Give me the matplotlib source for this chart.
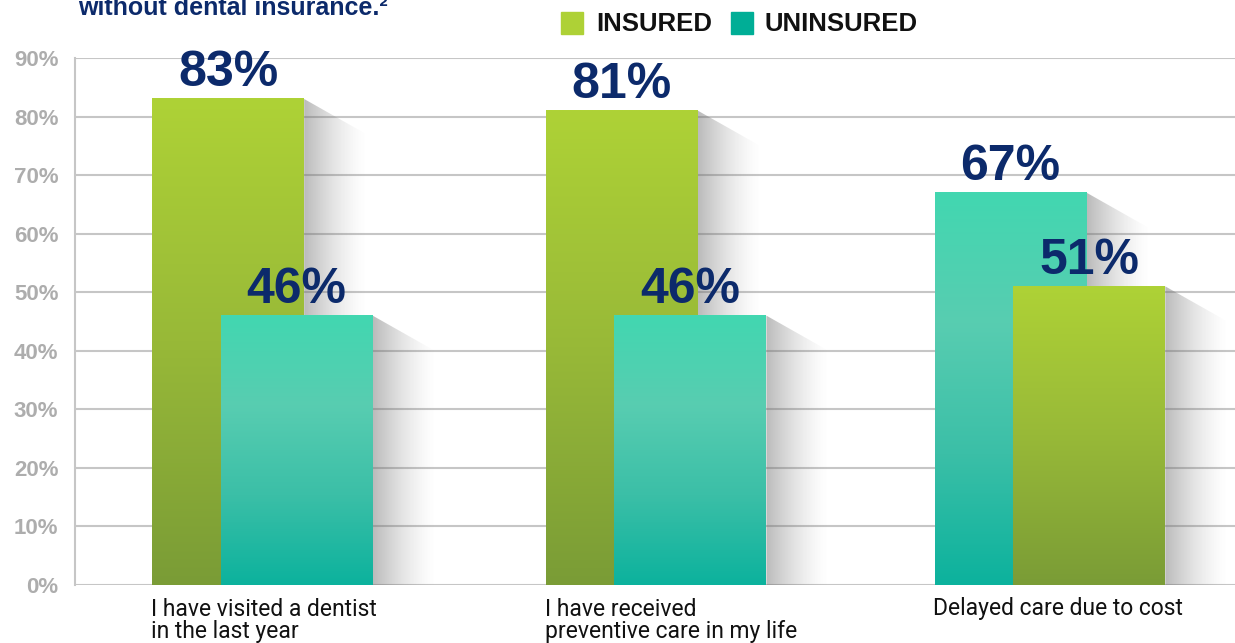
import numpy as np
import matplotlib.pyplot as plt
from matplotlib.colors import LinearSegmentedColormap
from matplotlib.patches import Polygon, Rectangle

# data
categories = ["I have visited a dentist\nin the last year",
              "I have received\npreventive care in my life",
              "Delayed care due to cost"]
insured = [83, 81, 51]
uninsured = [46, 46, 67]
series_names = ["INSURED", "UNINSURED"]
yticks = [0, 10, 20, 30, 40, 50, 60, 70, 80, 90]

NAVY = "#0c2a6b"
GRID = "#c6c6c6"
green_cmap = LinearSegmentedColormap.from_list("g", ["#7a9c36", "#98b938", "#aed236"])
teal_cmap = LinearSegmentedColormap.from_list("t", ["#0cb29d", "#3bbfa7", "#58cdb1", "#42d7b0"])
legend_colors = ["#aed136", "#00ae96"]

bar_w = 0.386
offsets = [0.087, 0.087, 0.1]
shadow_w = 0.16
shadow_drop = 3.8      # in % units over 0.1 x units

fig = plt.figure(figsize=(12.35, 6.43), dpi=100)
ax = fig.add_axes([75 / 1235, 58 / 643, 1 - 75 / 1235, 527 / 643])

for y in yticks:
    ax.axhline(y, color=GRID, lw=1.5, zorder=0.5)

grad = np.linspace(0, 1, 256).reshape(-1, 1)
shadow = np.zeros((1, 256, 4))
shadow[..., :3] = 0.42
shadow[..., 3] = np.linspace(0.6, 0, 256) ** 1.5


def draw_bar(xc, h, cmap, z):
    x0, x1 = xc - bar_w / 2, xc + bar_w / 2
    # shadow to the right with a slanted top
    poly = Polygon([(x1, 0), (x1, h), (x1 + shadow_w, h - shadow_drop * shadow_w / 0.1),
                    (x1 + shadow_w, 0)], closed=True, transform=ax.transData)
    im = ax.imshow(shadow, extent=(x1, x1 + shadow_w, 0, h), aspect="auto",
                   origin="lower", zorder=z - 0.5, interpolation="bilinear")
    im.set_clip_path(poly)
    ax.imshow(grad, extent=(x0, x1, 0, h), cmap=cmap, aspect="auto",
              origin="lower", zorder=z, interpolation="bilinear")
    ax.annotate(f"{h}%", (xc, h), xytext=(0, 9), textcoords="offset points",
                ha="center", va="baseline", fontsize=36, fontweight="bold",
                color=NAVY, family="Liberation Sans", zorder=10)


for i, (a, b) in enumerate(zip(insured, uninsured)):
    pairs = [(a, green_cmap), (b, teal_cmap)]
    pairs.sort(key=lambda p: -p[0])  # taller bar sits behind, on the left
    off = offsets[i]
    draw_bar(i - off, pairs[0][0], pairs[0][1], 2)
    draw_bar(i + off, pairs[1][0], pairs[1][1], 4)
    ax.annotate(categories[i], (i - off - bar_w / 2, 0), xytext=(-1, -9),
                textcoords="offset points", ha="left", va="top", fontsize=16.5,
                family="Roboto", color="#111111", linespacing=0.95)

ax.set_xlim(-0.476, 2.470)
ax.set_ylim(0, 90)
ax.set_yticks(yticks)
ax.set_yticklabels([f"{t}%" for t in yticks], fontsize=16, fontweight="bold",
                   color="#adadad", family="Liberation Sans")
ax.tick_params(axis="y", length=0, pad=12)
ax.set_xticks([])
for s in ["top", "right", "bottom"]:
    ax.spines[s].set_visible(False)
ax.spines["left"].set_color(GRID)
ax.spines["left"].set_linewidth(1.5)

# title fragment, cut off at the top of the picture as in the source
fig.text(78 / 1235, 1 - 15 / 643, "without dental insurance.²", fontsize=18,
         fontweight="bold", color=NAVY, family="Liberation Sans", va="baseline")

# legend
for name, col, xs, xt in zip(series_names, legend_colors, [561, 731], [596, 765]):
    fig.patches.append(Rectangle((xs / 1235, 1 - 34 / 643), 22 / 1235, 22 / 643,
                                 transform=fig.transFigure, color=col))
    fig.text(xt / 1235, 1 - 31 / 643, name, fontsize=18.5, fontweight="bold",
             color="#111111", family="Liberation Sans", va="baseline")

fig.savefig("out.png", dpi=100)
